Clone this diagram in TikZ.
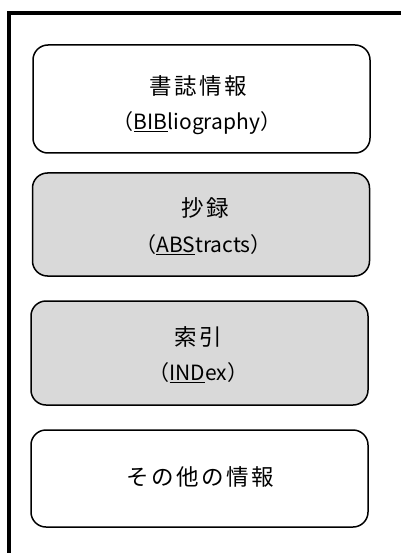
\documentclass[tikz,border=0pt]{standalone}
\usepackage{fontspec}
\newfontfamily\jpsp{Noto Sans CJK JP}[LetterSpace=11]
\newfontfamily\jpla{Noto Sans CJK JP}
\newcommand{\ulined}[1]{\setbox0\hbox{#1}\rlap{\rule[-3pt]{\wd0}{1.8pt}}\box0}
\begin{document}
\begin{tikzpicture}[x=1pt,y=-1pt,
  infobox/.style={draw=black, line width=1.5pt, rounded corners=15pt,
    minimum width=337pt, inner sep=0pt},
  plainbox/.style={infobox, fill=white},
  greybox/.style={infobox, fill=boxgrey},
  jtxt/.style={inner sep=0pt, font=\fontsize{22.5pt}{26pt}\selectfont\jpsp, anchor=center},
  ltxt/.style={inner sep=0pt, font=\fontsize{21pt}{25pt}\selectfont\jpla, anchor=center},
  frame/.style={line width=3.6pt, line join=miter}]
\definecolor{boxgrey}{HTML}{D9D9D9}
\useasboundingbox (0,0) rectangle (400,553);
\coordinate (fb) at (9,560);
\coordinate (fr) at (405,13);
\draw[frame] (fb) |- (fr);
\node[plainbox, minimum height=108pt] (b1) at (201.5,99) {};
\node[greybox, minimum height=103pt] (b2) at (201,224.5) {};
\node[greybox, minimum height=104pt] (b3) at (199.5,353) {};
\node[plainbox, minimum height=97pt] (b4) at (199.5,478.5) {};
\node[jtxt] (t1a) at (198.5,86) {書誌情報};
\node[ltxt] (t1b) at (197,123) {（\ulined{BIB}liography）};
\node[jtxt] (t2a) at (205.5,208) {抄録};
\node[ltxt] (t2b) at (203.5,245) {（\ulined{ABS}tracts）};
\node[jtxt] (t3a) at (198.5,336.7) {索引};
\node[ltxt] (t3b) at (198.5,373) {（\ulined{IND}ex）};
\node[jtxt] (t4a) at (200.5,476.5) {その他の情報};
\end{tikzpicture}
\end{document}
